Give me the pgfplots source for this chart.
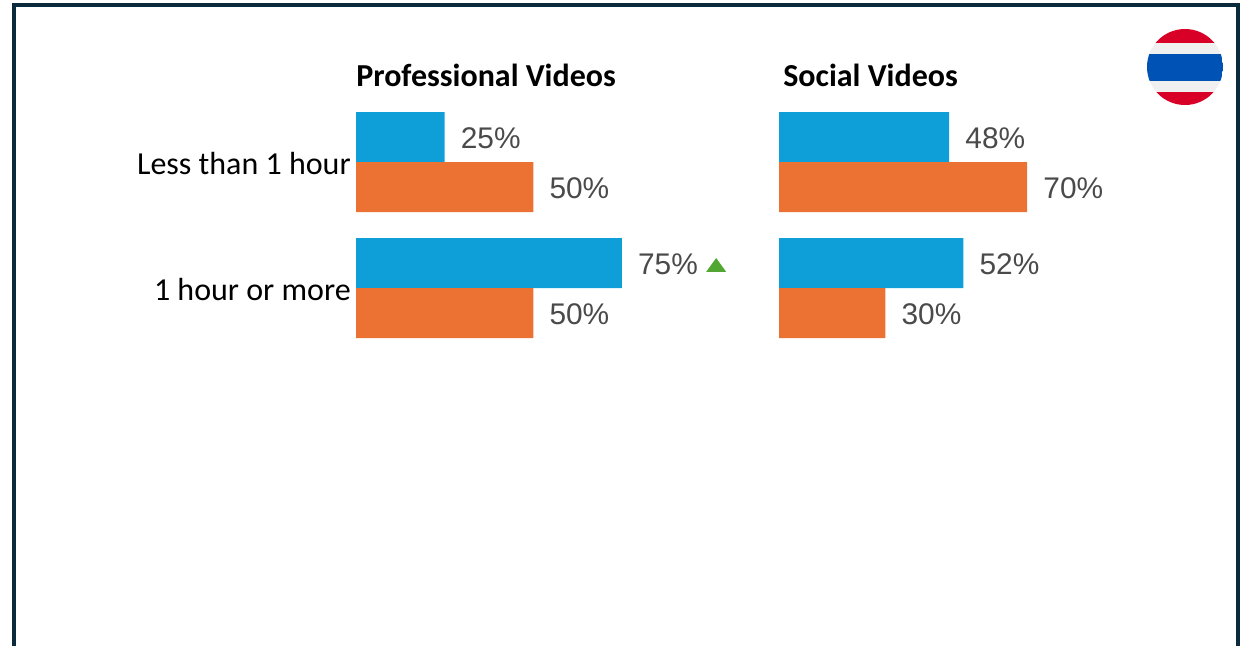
\documentclass[border=0pt]{standalone}
\usepackage{pgfplots}
\pgfplotsset{compat=1.18}
\usepackage{fontspec}
\setmainfont{Carlito}
\newfontfamily\arialf{Liberation Sans}
\definecolor{barblue}{HTML}{0F9FD8}
\definecolor{barorange}{HTML}{EB7232}
\definecolor{lab}{HTML}{4A4A4A}
\definecolor{frame}{HTML}{0B2B3C}
\definecolor{upg}{HTML}{52A733}
\pgfdeclareplotmark{uptri}{\pgfpathmoveto{\pgfqpoint{-7.5pt}{-5.2pt}}\pgfpathlineto{\pgfqpoint{7.5pt}{-5.2pt}}\pgfpathlineto{\pgfqpoint{0pt}{5.2pt}}\pgfpathclose\pgfusepathqfill}
\pgfplotsset{
  panel/.style={
    scale only axis, width=265.875pt, height=189pt, anchor=north west,
    xmin=0, xmax=100, ymin=-0.5, ymax=1.5, y dir=reverse, clip=false,
    axis line style={draw=none}, tick style={draw=none},
    xtick=\empty, ytick={0,1}, major tick length=0pt,
    /pgf/number format/assume math mode=true,
  },
  val/.style n args={3}{
    xbar, draw=none, fill=#1, bar width=37.5pt, bar shift=#2,
    nodes near coords={\pgfmathprintnumber{\pgfplotspointmeta}\%},
    every node near coord/.append style={anchor=west, inner sep=0pt, xshift=12pt, yshift=#3, font=\arialf\fontsize{22.4}{24}\selectfont, text=lab},
  },
}
\begin{document}
\begin{tikzpicture}
\begin{scope}[x=0.75pt,y=-0.75pt]
\useasboundingbox (0,0) rectangle (1240,646);
\draw[frame, line width=3pt] (14,646) -- (14,5) -- (1238,5) -- (1238,646);
\begin{scope}
\clip (1185,67) circle (38);
\fill[fill=white] (1147,29) rectangle (1223,105);
\fill[fill={rgb,255:red,216;green,0;blue,39}] (1147,29) rectangle (1223,43);
\fill[fill={rgb,255:red,240;green,240;blue,240}] (1147,43) rectangle (1223,54);
\fill[fill={rgb,255:red,0;green,82;blue,180}] (1147,54) rectangle (1223,81);
\fill[fill={rgb,255:red,240;green,240;blue,240}] (1147,81) rectangle (1223,92);
\fill[fill={rgb,255:red,216;green,0;blue,39}] (1147,92) rectangle (1223,105);
\end{scope}
\node[anchor=base west, inner sep=0pt, font=\bfseries\fontsize{24}{26}\selectfont] at (356,86) {Professional Videos};
\node[anchor=base west, inner sep=0pt, font=\bfseries\fontsize{24}{26}\selectfont] at (783,86) {Social Videos};
\end{scope}
\begin{axis}[panel, at={(267pt,-74.25pt)},
  yticklabels={Less than 1 hour,1 hour or more},
  yticklabel style={font=\fontsize{24}{26}\selectfont, inner sep=0pt, xshift=-3.75pt, yshift=-1.5pt, text=black},
]
\addplot[val={barblue}{18.75pt}{18pt}] coordinates {(25,0) (75,1)};
\addplot[val={barorange}{-18.75pt}{-19.5pt}] coordinates {(50,0) (50,1)};
\addplot[only marks, mark=uptri, color=upg, fill=upg] coordinates {(101.6,0.817)};
\end{axis}
\begin{axis}[panel, at={(584.25pt,-74.25pt)}, yticklabels={}]
\addplot[val={barblue}{18.75pt}{18pt}] coordinates {(48,0) (52,1)};
\addplot[val={barorange}{-18.75pt}{-19.5pt}] coordinates {(70,0) (30,1)};
\end{axis}
\end{tikzpicture}
\end{document}
